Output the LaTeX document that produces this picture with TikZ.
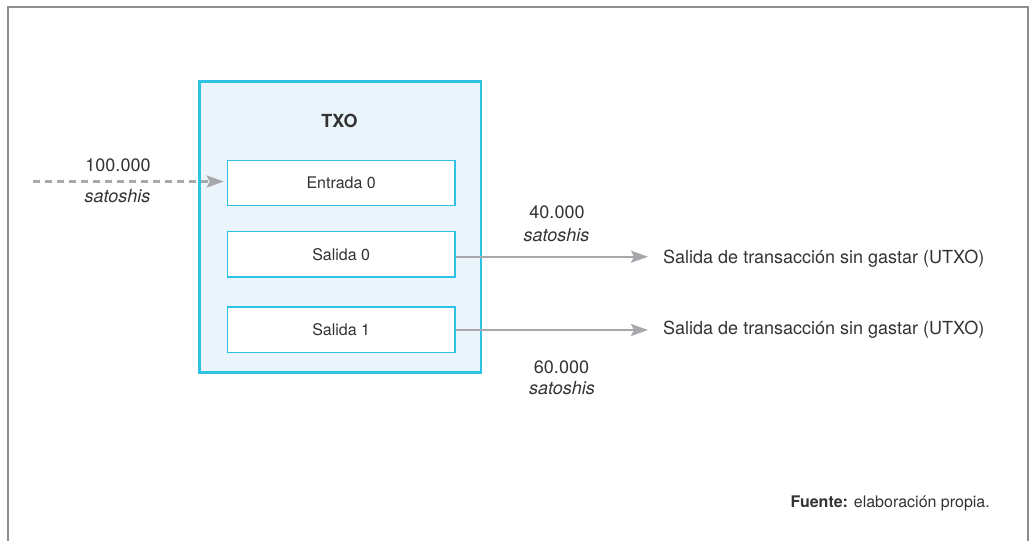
\documentclass[tikz,border=0pt]{standalone}
\usepackage{fontspec}
\setmainfont{TeX Gyre Heros}
\usetikzlibrary{arrows.meta}
\definecolor{framegray}{HTML}{8E8E8E}
\definecolor{txocyan}{HTML}{2EC3E4}
\definecolor{txofill}{HTML}{EAF5FB}
\definecolor{arrowgray}{HTML}{A7A8AB}
\definecolor{ink}{HTML}{333333}
\tikzset{
  txobox/.style={draw=txocyan, line width=2.8pt, fill=txofill, minimum width=281.5pt, minimum height=291pt, inner sep=0pt},
  slotbox/.style={draw=txocyan, line width=1.4pt, fill=white, minimum width=227.7pt, minimum height=45.5pt, inner sep=0pt, text=ink, font=\fontsize{16}{19}\selectfont},
  flow/.style={draw=arrowgray, line width=2.4pt, -{Stealth[length=17pt, width=12pt, inset=3pt]}},
  amount/.style={text=ink, font=\fontsize{18}{21}\selectfont, inner sep=0pt},
  unit/.style={text=ink, font=\fontsize{18}{21}\selectfont\itshape, inner sep=0pt},
  utxo/.style={text=ink, font=\fontsize{18}{21}\selectfont, inner sep=0pt, anchor=west},
}
\begin{document}
\begin{tikzpicture}[x=1pt, y=-1pt]
  \useasboundingbox (0,0) rectangle (1029,541);
  % open frame around the figure
  \draw[framegray, line width=1.6pt] (7.7,541) -- (7.7,6.7) -- (1027.7,6.7) -- (1027.7,541);

  % transaction container
  \node[txobox] (txo) at (340.3,227) {};
  \node[text=ink, font=\fontsize{18}{21}\selectfont\bfseries, inner sep=0pt] (txotitle) at (339.5,120.5) {TXO};

  % input and outputs
  \node[slotbox] (in0) at (341.2,183) {Entrada 0};
  \node[slotbox] (out0) at (341.2,254.4) {Salida 0};
  \node[slotbox] (out1) at (341.2,329.7) {Salida 1};

  % incoming amount
  \coordinate (src) at (33,181.5);
  \draw[flow, dash pattern=on 7pt off 5pt] (src) -- ([xshift=-3pt]in0.west |- src);
  \node[amount] (amtin) at (118,165) {100.000};
  \node[unit] (unitin) at (117.5,196.5) {satoshis};

  % outgoing amounts
  \coordinate (dst0) at (648,256.7);
  \coordinate (dst1) at (648,330);
  \draw[flow] (out0.east |- dst0) -- (dst0);
  \draw[flow] (out1.east |- dst1) -- (dst1);
  \node[amount] (amt0) at (557,212) {40.000};
  \node[unit] (unit0) at (556.5,235) {satoshis};
  \node[amount] (amt1) at (561.5,367) {60.000};
  \node[unit] (unit1) at (562,388.5) {satoshis};

  \node[utxo] (utxo0) at (663,258.5) {Salida de transacción sin gastar (UTXO)};
  \node[utxo] (utxo1) at (663,330) {Salida de transacción sin gastar (UTXO)};

  % source note
  \node[text=ink, font=\fontsize{16}{19}\selectfont, inner sep=0pt, anchor=east] (note) at (990,503.5) {\textbf{Fuente:} elaboración propia.};
\end{tikzpicture}
\end{document}
